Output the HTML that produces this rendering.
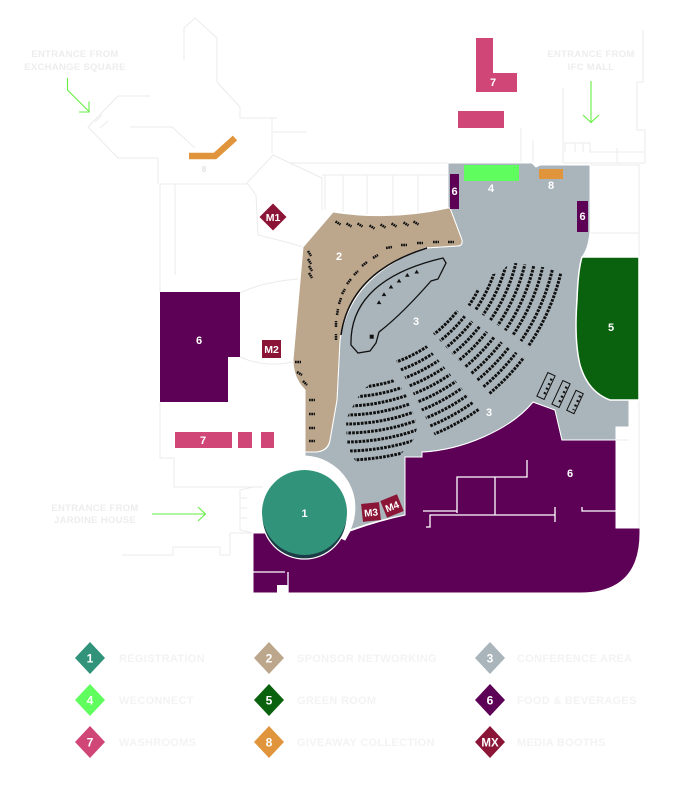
<!DOCTYPE html>
<html><head><meta charset="utf-8">
<style>
html,body{margin:0;padding:0;background:#fff;}
body{width:695px;height:806px;overflow:hidden;}
svg{display:block;}
text{font-family:"Liberation Sans",sans-serif;font-weight:bold;}
</style></head><body>
<svg width="695" height="806" viewBox="0 0 695 806" xmlns="http://www.w3.org/2000/svg">
<defs>
<clipPath id="cA"><polygon points="376,381 391,378 399,385 405,393 409,401 412,410 415,418 417,428 414,439 397,459 357,464 352,455 347,446 346,420 350,411 356,401 361,392 372,382"/></clipPath>
<clipPath id="cB"><polygon points="394.9,358.2 424.5,343.4 481.5,412.3 436.1,437.6"/></clipPath>
<clipPath id="cC"><polygon points="431.2,331.3 454.1,308.7 527.7,360.7 492.8,397.2"/></clipPath>
<clipPath id="cD"><polygon points="465.6,303.3 474.9,287.7 482,291.4 489.3,274.9 499.6,272.7 510.9,262.4 547.7,267.8 565.2,275 563.5,280 551.6,315.1 531.7,348.4"/></clipPath>
</defs>

<!-- faint walls -->
<g fill="none" stroke="#ebebeb" stroke-width="1">
<path d="M184,60 L184,28 L195,18 L217,38 L217,82 L240,107 L240,118 L277,118"/>
<path d="M272,118 L272,153 M273,132 L307,132"/>
<path d="M118,96 L150,96 M118,96 L88,127 L118,158 L158,158 M95,122 L102,115 M100,128 L108,121 M130,127 L172,127 L195,148"/>
<path d="M158,158 L158,184 M160,184 L247,184 M175,184 L175,275 M160,184 L160,292"/>
<path d="M160,402 L160,458 L174,458 L174,487 L263,487"/>
<path d="M247,183 L273,155 L290,163 L322,178 L322,210 M247,183 L256,195 L258,235 L290,243 L303,247"/>
<path d="M240,293 Q262,282 298,279 M240,357 Q265,368 293,362"/>
<path d="M290,163 L448,163 M322,175 L448,175 M325,175 L325,210 M343,175 L343,212 M367,175 L367,214 M393,175 L393,215 M418,175 L418,213"/>
<path d="M521,128 L521,163 M533,140 L533,163 M563,88 L563,163 M563,163 L645,163 M643,30 L643,82 L637,82 L637,130 L645,130 L645,163"/>
<path d="M565,152 L565,143 L590,143 L590,152 L645,152 M617,148 L617,163 M575,143 L575,152 M583,143 L583,152"/>
<path d="M590,165 L639,165 L639,257 M590,233 L639,233 M629,400 L639,400 L639,528 M616,440 L629,440"/>
<path d="M230,533 L253,533 M230,533 L230,555 L220,555 L220,547 L173,547 L173,555 L122,555"/>
<path d="M253,487 L240,490 L240,530 L253,533 M240,498 L247,498 M240,508 L247,508 M240,518 L247,518"/>
</g>

<!-- orange bar top-left -->
<polyline points="189,156 215,156 235,138" fill="none" stroke="#e0953c" stroke-width="6.5"/>
<text x="204" y="172" font-size="8" fill="#e2e2e2" text-anchor="middle">8</text>

<!-- purple bottom -->
<path d="M253,533 L330,533 L345,540 L350,531 Q378,521 405,515 L405,457 L422,457 L422,452 C462,450 510,430 533,402 L555,410 L562,440 L616,440 L616,528 L640,528 L640,533 Q640,593 580,593 L253,593 Z" fill="#5d0157" stroke="#fff" stroke-width="1"/>
<g fill="none" stroke="#fff" stroke-width="1.3">
<path d="M457,513 L457,477 L527,477 L527,460 M495,477 L495,515 M423,511 L457,511 M426,527 L430,527 L430,515 L555,515 M555,507 L555,522 M582,507 L582,511 L616,511 M253,572 L285,572 M288,572 L288,593"/>
</g>
<rect x="277" y="585" width="11" height="9" fill="#fff"/>

<!-- grey conference -->
<path d="M448,163 L532,163 L536,167 L540,165 L590,165 L590,230 Q589,248 582,257 Q574,300 577,340 Q584,392 612,400 L629,400 L629,427 L616,427 L616,440 L562,440 L555,410 L533,402 C510,430 462,450 422,452 L422,457 L405,457 L405,515 Q378,520 350,530 A52,52 0 0 0 305,456 L305,452 L316,452 Q329,451 330,440 L337,400 L340,340 Q350,275 425,248 L457,246 Q463,246 462,240 L450,208 L448,208 Z" fill="#a9b5bb" stroke="#fff" stroke-width="1"/>

<!-- beige -->
<path d="M333,212 Q390,221 448,208 L450,208 L462,240 Q463,246 457,246 L425,248 Q350,275 340,340 L337,400 L330,440 Q328,451 316,452 L305,452 L305,390 Q293,378 293,360 L303,247 Z" fill="#bca78d" stroke="#fff" stroke-width="1"/>
<path d="M427,248 Q350,272 341,335" fill="none" stroke="#111" stroke-width="1.5"/>

<!-- green room -->
<path d="M582,257 L639,257 L639,400 L610,400 Q588,392 580,365 Q574,340 577,300 Q578,270 582,257 Z" fill="#0b620e" stroke="#fff" stroke-width="1.5"/>

<!-- stage -->
<path d="M351,345 C350,310 370,275 443,258 L446,263 L438,279 L431,281 C410,305 392,322 379,332 L376,343 L370,351 L358,353 Z" fill="none" stroke="#111" stroke-width="1.3"/>
<g fill="#111">
<polygon points="416.7,269.7 419,273.5 414.4,273.5"/>
<polygon points="407.3,273 409.6,276.8 405,276.8"/>
<polygon points="399,278.7 401.3,282.5 396.7,282.5"/>
<polygon points="391,284.7 393.3,288.5 388.7,288.5"/>
<polygon points="384,292.3 386.3,296.1 381.7,296.1"/>
<polygon points="379,300.3 381.3,304.1 376.7,304.1"/>
<rect x="369.7" y="334.7" width="4" height="4"/>
</g>

<!-- seats -->
<g fill="none" stroke="#111" stroke-width="3" stroke-dasharray="2.7 1.1">
<g clip-path="url(#cA)">
<circle cx="345" cy="221" r="167"/><circle cx="345" cy="221" r="176"/><circle cx="345" cy="221" r="185"/><circle cx="345" cy="221" r="194"/><circle cx="345" cy="221" r="203"/><circle cx="345" cy="221" r="212"/><circle cx="345" cy="221" r="221"/><circle cx="345" cy="221" r="230"/><circle cx="345" cy="221" r="239"/>
</g>
<g clip-path="url(#cB)">
<circle cx="345" cy="221" r="150"/><circle cx="345" cy="221" r="159"/><circle cx="345" cy="221" r="168"/><circle cx="345" cy="221" r="177"/><circle cx="345" cy="221" r="186"/><circle cx="345" cy="221" r="195"/><circle cx="345" cy="221" r="204"/><circle cx="345" cy="221" r="213"/><circle cx="345" cy="221" r="222"/><circle cx="345" cy="221" r="231"/>
</g>
<g clip-path="url(#cC)">
<circle cx="345" cy="221" r="144"/><circle cx="345" cy="221" r="153"/><circle cx="345" cy="221" r="162"/><circle cx="345" cy="221" r="171"/><circle cx="345" cy="221" r="180"/><circle cx="345" cy="221" r="189"/><circle cx="345" cy="221" r="198"/><circle cx="345" cy="221" r="207"/><circle cx="345" cy="221" r="216"/><circle cx="345" cy="221" r="225"/>
</g>
<g clip-path="url(#cD)">
<circle cx="345" cy="221" r="150"/><circle cx="345" cy="221" r="158"/><circle cx="345" cy="221" r="167"/><circle cx="345" cy="221" r="176"/><circle cx="345" cy="221" r="185"/><circle cx="345" cy="221" r="194"/><circle cx="345" cy="221" r="203"/><circle cx="345" cy="221" r="213"/><circle cx="345" cy="221" r="222"/>
</g>
</g>

<!-- beige networking seats -->
<g fill="none" stroke="#111" stroke-width="2.5" stroke-dasharray="1.7 0.6">
<path d="M335.5,221.5 l5,3 M346.5,223.5 l5,3 M357.5,223.5 l5,3 M369.5,225.5 l5,3 M380.5,224.5 l5,3 M391.5,223.5 l5,3 M403.5,222.5 l5,3 M413.5,221.5 l5,3"/>
<path d="M386,248 l6,-1 M401,245 l6,0 M417,243 l6,0 M433,242 l6,0 M448,242 l6,0"/>
<path d="M373,258 l5,-3 M362,266 l5,-4 M354,275 l4,-4 M347,284 l4,-5 M342,294 l3,-5 M339,304 l2,-6 M337,315 l1,-6 M336,327 l0,-6 M336,340 l0,-6"/>
<path d="M308,251 l3,5 M308,259 l3,5 M309,266 l3,5 M309,273 l3,5"/>
<path d="M295,362 l6,0 M297,372 l5,3 M303,381 l4,4"/>
<path d="M309,400 l6,0 M309,414 l6,0 M309,428 l6,0 M309,441 l6,0"/>
</g>

<!-- media booth rects in conference -->
<g stroke="#111" stroke-width="1" fill="#a9b5bb">
<g transform="rotate(25 546 386)"><rect x="542" y="373" width="8" height="26"/><path d="M548,377 L548,396" stroke-width="2.4" stroke-dasharray="2 3" fill="none"/></g>
<g transform="rotate(25 561 394)"><rect x="557" y="381" width="8" height="26"/><path d="M563,385 L563,404" stroke-width="2.4" stroke-dasharray="2 3" fill="none"/></g>
<g transform="rotate(25 575 402)"><rect x="571" y="391" width="8" height="22"/><path d="M577,394 L577,410" stroke-width="2.4" stroke-dasharray="2 3" fill="none"/></g>
</g>

<!-- registration circle -->
<circle cx="304.5" cy="516.5" r="42.5" fill="#1d3b47" stroke="#fff" stroke-width="1.2"/>
<circle cx="304.5" cy="512.5" r="42.5" fill="#31937a"/>

<!-- purple bars, green, orange -->
<rect x="450" y="174" width="9" height="35" fill="#5d0157"/>
<rect x="577" y="201" width="11" height="31" fill="#5d0157"/>
<rect x="464" y="165" width="55" height="16" fill="#60fd5e"/>
<rect x="539" y="169" width="24" height="10" fill="#e0953c"/>

<!-- pink washrooms -->
<polygon points="476,38 493,38 493,73 517,73 517,92 476,92" fill="#cf4677"/>
<rect x="458" y="111" width="46" height="17" fill="#cf4677"/>
<rect x="175" y="432" width="57" height="16" fill="#cf4677"/>
<rect x="238" y="432" width="14" height="16" fill="#cf4677"/>
<rect x="261" y="432" width="13" height="16" fill="#cf4677"/>

<!-- left purple F&B -->
<polygon points="160,292 240,292 240,357 228,357 228,402 160,402" fill="#5d0157"/>

<!-- media booths M -->
<polygon points="273,203.5 286.5,217 273,230.5 259.5,217" fill="#8b1537"/>
<text x="273" y="221" font-size="10.5" fill="#fff" text-anchor="middle">M1</text>
<rect x="262" y="340" width="19" height="18" fill="#8b1537"/>
<text x="271.5" y="353" font-size="10.5" fill="#fff" text-anchor="middle">M2</text>
<g transform="rotate(-6 371 512)"><rect x="362" y="503" width="18" height="18" fill="#8b1537"/><text x="371" y="516" font-size="10" fill="#fff" text-anchor="middle">M3</text></g>
<g transform="rotate(-22 392 506)"><rect x="383" y="497" width="18" height="18" fill="#8b1537"/><text x="392" y="510" font-size="10" fill="#fff" text-anchor="middle">M4</text></g>

<!-- area labels -->
<g fill="#fff" font-size="11" text-anchor="middle">
<text x="304.5" y="517">1</text>
<text x="339" y="260">2</text>
<text x="416" y="325">3</text>
<text x="489" y="416">3</text>
<text x="491" y="192">4</text>
<text x="611" y="331">5</text>
<text x="199" y="344">6</text>
<text x="454.5" y="195">6</text>
<text x="582.5" y="220">6</text>
<text x="570" y="477">6</text>
<text x="493" y="86">7</text>
<text x="203" y="444">7</text>
<text x="551" y="189">8</text>
</g>

<!-- entrances -->
<g fill="none" stroke="#66ee44" stroke-width="1.1">
<path d="M67.5,78 L67.5,90 L89,111.5 M79,112 L89,112 L89,101.5"/>
<path d="M591,81 L591,122 M583,115 L591,122.5 L599,115"/>
<path d="M152,514 L205.5,514 M198,507 L205.5,514 L198,521"/>
</g>
<g fill="#ededed" font-size="9.5" text-anchor="middle" letter-spacing="0.3">
<text x="75" y="57">ENTRANCE FROM</text>
<text x="75" y="70">EXCHANGE SQUARE</text>
<text x="591" y="57">ENTRANCE FROM</text>
<text x="591" y="70">IFC MALL</text>
<text x="95" y="511">ENTRANCE FROM</text>
<text x="95" y="523">JARDINE HOUSE</text>
</g>

<!-- legend -->
<g>
<polygon points="90,642 105,658 90,674 75,658" fill="#31937a"/>
<polygon points="269,642 284,658 269,674 254,658" fill="#bca78d"/>
<polygon points="490,642 505,658 490,674 475,658" fill="#a9b5bb"/>
<polygon points="90,684 105,700 90,716 75,700" fill="#60fd5e"/>
<polygon points="269,684 284,700 269,716 254,700" fill="#0b620e"/>
<polygon points="490,684 505,700 490,716 475,700" fill="#5d0157"/>
<polygon points="90,726 105,742 90,758 75,742" fill="#cf4677"/>
<polygon points="269,726 284,742 269,758 254,742" fill="#e0953c"/>
<polygon points="490,726 505,742 490,758 475,742" fill="#8b1537"/>
</g>
<g fill="#fff" font-size="12" text-anchor="middle">
<text x="90" y="662.5">1</text><text x="269" y="662.5">2</text><text x="490" y="662.5">3</text>
<text x="90" y="704.5">4</text><text x="269" y="704.5">5</text><text x="490" y="704.5">6</text>
<text x="90" y="746.5">7</text><text x="269" y="746.5">8</text><text x="490" y="746.5" font-size="11.5">MX</text>
</g>
<g fill="#f3f3f3" font-size="11" letter-spacing="0.3">
<text x="119" y="662">REGISTRATION</text>
<text x="297" y="662">SPONSOR NETWORKING</text>
<text x="517" y="662">CONFERENCE AREA</text>
<text x="119" y="704">WECONNECT</text>
<text x="297" y="704">GREEN ROOM</text>
<text x="517" y="704">FOOD &amp; BEVERAGES</text>
<text x="119" y="746">WASHROOMS</text>
<text x="297" y="746">GIVEAWAY COLLECTION</text>
<text x="517" y="746">MEDIA BOOTHS</text>
</g>
</svg>
</body></html>
